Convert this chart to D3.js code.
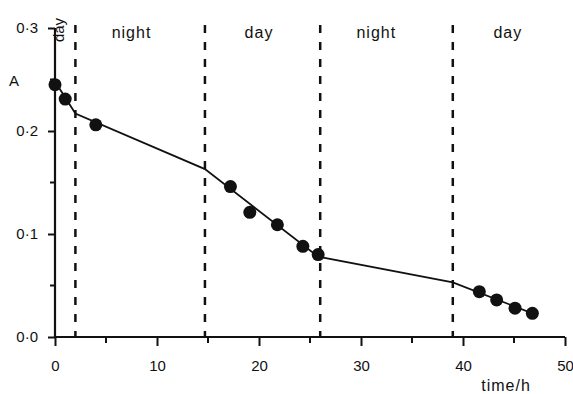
<!DOCTYPE html>
<html>
<head>
<meta charset="utf-8">
<script src="https://cdn.jsdelivr.net/npm/d3@7"></script>
<style>
  body { margin: 0; background: #fff; }
  text { font-family: "Liberation Sans", Arial, sans-serif; fill: #111; }
</style>
</head>
<body>
<div id="chart"></div>
<script>
var svgWidth = 573;
var svgHeight = 394;

// measured points
var timeH = [0, 1, 4, 17.2, 19.1, 21.8, 24.3, 25.8, 41.6, 43.3, 45.1, 46.8];
var absA  = [0.245, 0.231, 0.206, 0.146, 0.121, 0.109, 0.088, 0.080, 0.044, 0.036, 0.028, 0.023];

// fitted curve (piecewise, kinks at the light switches)
var fitT = [0, 2, 14.7, 25.8, 39, 46.8];
var fitA = [0.248, 0.217, 0.163, 0.078, 0.053, 0.023];

// light / dark switches
var switchT = [2, 14.7, 26, 39];
var periodLabels = ["night", "day", "night", "day"];
var periodMid = [7.5, 20, 31.5, 44.4];

var xTicks = [0, 10, 20, 30, 40, 50];
var xMinor = [5, 15, 25, 35, 45];
var yTicks = [0, 0.1, 0.2, 0.3];
var yMinor = [0.05, 0.15, 0.25];

var svg = d3.select("#chart")
    .append("svg")
    .attr("width", svgWidth)
    .attr("height", svgHeight);

var x = d3.scaleLinear().domain([0, 50]).range([55, 565]);
var y = d3.scaleLinear().domain([0, 0.3]).range([337, 28]);

// dashed switch lines
svg.selectAll(".switch")
    .data(switchT)
    .enter()
    .append("line")
    .attr("x1", d => x(d))
    .attr("x2", d => x(d))
    .attr("y1", y(0.3) - 3)
    .attr("y2", y(0))
    .attr("stroke", "#111")
    .attr("stroke-width", 2.5)
    .attr("stroke-dasharray", "8,9");

// axes
var bottomAxis = d3.axisBottom(x)
    .tickValues(xTicks)
    .tickSize(9)
    .tickPadding(14)
    .tickFormat(d3.format("d"));
var leftAxis = d3.axisLeft(y)
    .tickValues(yTicks)
    .tickSize(7)
    .tickPadding(10)
    .tickFormat(d => d3.format(".1f")(d).replace(".", "·"));

var gx = svg.append("g")
    .attr("transform", `translate(0, ${y(0)})`)
    .call(bottomAxis);
var gy = svg.append("g")
    .attr("transform", `translate(${x(0)}, 0)`)
    .call(leftAxis);

[gx, gy].forEach(function(g) {
  g.select(".domain").remove();
  g.selectAll(".tick line").attr("stroke", "#111").attr("stroke-width", 2);
  g.selectAll(".tick text").style("font-size", "15px").attr("fill", "#111");
});

svg.append("line")
    .attr("x1", x(0)).attr("x2", x(50))
    .attr("y1", y(0)).attr("y2", y(0))
    .attr("stroke", "#111").attr("stroke-width", 2.2);
svg.append("line")
    .attr("x1", x(0)).attr("x2", x(0))
    .attr("y1", y(0)).attr("y2", y(0.3))
    .attr("stroke", "#111").attr("stroke-width", 2.2);

// minor ticks
svg.selectAll(".xminor")
    .data(xMinor)
    .enter()
    .append("line")
    .attr("x1", d => x(d)).attr("x2", d => x(d))
    .attr("y1", y(0)).attr("y2", y(0) + 6)
    .attr("stroke", "#111").attr("stroke-width", 2);
svg.selectAll(".yminor")
    .data(yMinor)
    .enter()
    .append("line")
    .attr("x1", x(0) - 5).attr("x2", x(0))
    .attr("y1", d => y(d)).attr("y2", d => y(d))
    .attr("stroke", "#111").attr("stroke-width", 2);

// fitted line
var line = d3.line()
    .x(d => x(d[0]))
    .y(d => y(d[1]));
svg.append("path")
    .datum(d3.zip(fitT, fitA))
    .attr("d", line)
    .attr("fill", "none")
    .attr("stroke", "#111")
    .attr("stroke-width", 1.8);

// points
svg.selectAll(".pt")
    .data(d3.zip(timeH, absA))
    .enter()
    .append("circle")
    .attr("cx", d => x(d[0]))
    .attr("cy", d => y(d[1]))
    .attr("r", 6.5)
    .attr("fill", "#111");

// period labels
svg.selectAll(".period")
    .data(periodLabels)
    .enter()
    .append("text")
    .attr("x", (d, i) => x(periodMid[i]))
    .attr("y", 38)
    .attr("text-anchor", "middle")
    .style("font-size", "16px")
    .style("letter-spacing", "1px")
    .text(d => d);

svg.append("text")
    .attr("transform", `translate(${x(0.9)}, 30) rotate(-90)`)
    .attr("text-anchor", "middle")
    .style("font-size", "15px")
    .text("day");

// axis titles
svg.append("text")
    .attr("x", 14)
    .attr("y", 86)
    .attr("text-anchor", "middle")
    .style("font-size", "15px")
    .text("A");

svg.append("text")
    .attr("x", 506)
    .attr("y", 391)
    .attr("text-anchor", "middle")
    .style("font-size", "16px")
    .style("letter-spacing", "1px")
    .text("time/h");
</script>
</body>
</html>
